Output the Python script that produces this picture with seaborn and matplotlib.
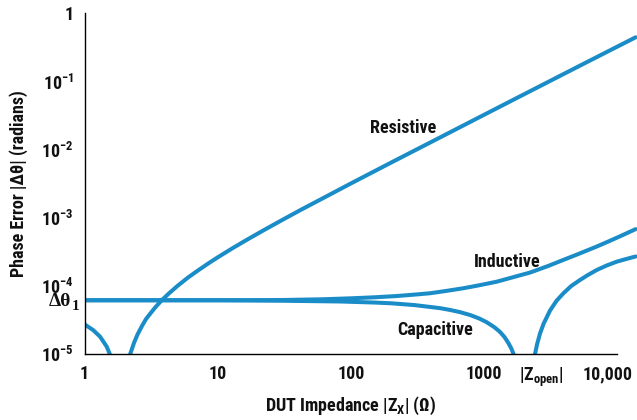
import pandas as pd
import matplotlib
matplotlib.use("Agg")
import matplotlib.pyplot as plt
import matplotlib.transforms as mtransforms
from matplotlib import font_manager
import seaborn as sns

# Phase error |Δθ| (radians) against DUT impedance |Zx| (Ω), one list pair per branch
resistive_low_z = [1.0, 1.16, 1.31, 1.47, 1.55, 1.62]
resistive_low_err = [2.75e-5, 2.27e-5, 1.81e-5, 1.29e-5, 1.0e-5, 7.0e-6]

resistive_high_z = [2.05, 2.2, 2.35, 2.5, 2.7, 2.9, 3.1, 3.4, 3.8, 4.3, 5, 6, 7, 8.5, 10,
                    13, 17, 22, 30, 42, 60, 100, 200, 420, 1000, 1760, 5560, 13740]
resistive_high_err = [4.8e-6, 1.0e-5, 1.46e-5, 1.95e-5, 2.6e-5, 3.3e-5, 3.9e-5, 4.88e-5,
                      6.2e-5, 7.8e-5, 1.01e-4, 1.34e-4, 1.66e-4, 2.15e-4, 2.64e-4,
                      3.62e-4, 4.92e-4, 6.55e-4, 9.16e-4, 1.31e-3, 1.89e-3, 3.2e-3,
                      6.46e-3, 1.36e-2, 3.25e-2, 5.73e-2, 0.181, 0.445]

inductive_z = [1, 10, 30, 60, 100, 150, 220, 300, 392, 520, 698, 900, 1244, 1650, 2212,
               3000, 3935, 5200, 7000, 9000, 11200, 13740]
inductive_err = [6.2e-5, 6.2e-5, 6.25e-5, 6.4e-5, 6.62e-5, 6.85e-5, 7.15e-5, 7.5e-5,
                 7.85e-5, 8.5e-5, 9.3e-5, 1.02e-4, 1.16e-4, 1.35e-4, 1.58e-4, 1.96e-4,
                 2.42e-4, 3.0e-4, 3.8e-4, 4.7e-4, 5.7e-4, 6.85e-4]

capacitive_low_z = [1, 10, 30, 83, 150, 200, 300, 392, 470, 555, 660, 784, 920, 1047,
                    1200, 1316, 1420, 1520, 1600, 1657, 1720, 1800]
capacitive_low_err = [6.2e-5, 6.2e-5, 6.1e-5, 5.95e-5, 5.74e-5, 5.6e-5, 5.27e-5, 4.95e-5,
                      4.74e-5, 4.47e-5, 4.15e-5, 3.77e-5, 3.35e-5, 2.95e-5, 2.48e-5,
                      2.13e-5, 1.8e-5, 1.47e-5, 1.22e-5, 1.03e-5, 8.5e-6, 6.0e-6]

capacitive_high_z = [2300, 2410, 2500, 2630, 2800, 3126, 3500, 3936, 4500, 5250, 6000,
                     7000, 8300, 9900, 11700, 13740]
capacitive_high_err = [4.7e-6, 1.0e-5, 1.41e-5, 2.02e-5, 2.82e-5, 4.38e-5, 6.1e-5, 7.83e-5,
                       1.0e-4, 1.23e-4, 1.45e-4, 1.72e-4, 2.0e-4, 2.28e-4, 2.5e-4, 2.72e-4]

delta_theta_1 = 6.2e-5
z_open = 1920

x_ticks = [1, 10, 100, 1000, z_open, 10000]
x_tick_labels = ["1", "10", "100", "1000", r"$|Z_{\mathrm{open}}|$", "10,000"]
y_ticks = [1e-5, 1e-4, 1e-3, 1e-2, 1e-1, 1]
y_tick_labels = [r"$10^{-5}$", r"$10^{-4}$", r"$10^{-3}$", r"$10^{-2}$", r"$10^{-1}$", "1"]

branches = {
    "resistive_low": (resistive_low_z, resistive_low_err),
    "resistive_high": (resistive_high_z, resistive_high_err),
    "inductive": (inductive_z, inductive_err),
    "capacitive_low": (capacitive_low_z, capacitive_low_err),
    "capacitive_high": (capacitive_high_z, capacitive_high_err),
}
df = pd.concat(
    [pd.DataFrame({"z": z, "err": e, "branch": name}) for name, (z, e) in branches.items()],
    ignore_index=True,
)

sns.set_theme(style="white")
installed = {f.name for f in font_manager.fontManager.ttflist}
sans = next((n for n in ("Roboto Condensed", "Liberation Sans Narrow", "Roboto")
             if n in installed), "DejaVu Sans")
plt.rcParams["font.family"] = [sans, "DejaVu Sans"]
plt.rcParams["font.weight"] = "bold"
plt.rcParams["axes.labelweight"] = "bold"
plt.rcParams["mathtext.fontset"] = "custom"
for key in ("rm", "it", "bf", "sf"):
    plt.rcParams[f"mathtext.{key}"] = f"{sans}:bold"

BLUE = "#1a8cc8"
INK = "#111111"
FS = 13
W, H = 637, 420
fig = plt.figure(figsize=(W / 100, H / 100), dpi=100)
ax = fig.add_axes([84.5 / W, 65.7 / H, (W - 84.5) / W, 341 / H])
ax.set_xscale("log")
ax.set_yscale("log")

sns.lineplot(data=df, x="z", y="err", units="branch", estimator=None, sort=False,
             color=BLUE, linewidth=2.9, ax=ax, legend=False)

ax.set_xlim(1, 10 ** 4.148)
ax.set_ylim(1e-5, 1)

ax.set_xticks(x_ticks)
ax.set_xticklabels(x_tick_labels)
ax.set_yticks(y_ticks)
ax.set_yticklabels(y_tick_labels)
ax.minorticks_off()
ax.tick_params(axis="both", which="major", direction="inout", length=8, width=1.0,
               color="black", labelsize=FS, labelcolor=INK)
ax.tick_params(axis="x", pad=4)
ax.tick_params(axis="y", pad=4)


def shift_label(tick_index, dx_px, ha=None):
    lab = ax.xaxis.get_major_ticks()[tick_index].label1
    if ha:
        lab.set_horizontalalignment(ha)
    lab.set_transform(lab.get_transform()
                      + mtransforms.ScaledTranslation(dx_px / 100, 0, fig.dpi_scale_trans))


# |Zopen| starts at its tick; 10,000 is pulled in from the right edge
shift_label(4, -3, ha="left")
shift_label(5, -10)

for side in ("top", "right"):
    ax.spines[side].set_visible(False)
for side in ("left", "bottom"):
    ax.spines[side].set_color("black")
    ax.spines[side].set_linewidth(1.0)
ax.spines["bottom"].set_bounds(1, 10000)

ax.set_xlabel(r"DUT Impedance $|Z_{\mathrm{X}}|$ (Ω)", fontsize=FS, color=INK)
ax.set_ylabel("Phase Error |Δθ| (radians)", fontsize=FS, color=INK)
ax.xaxis.set_label_coords(0.482, -0.12)
ax.yaxis.set_label_coords(-0.103, 0.5)

# curve names
ax.text(246, 0.0205, "Resistive", ha="center", va="center", fontsize=FS, color=INK)
ax.text(1486, 2.25e-4, "Inductive", ha="center", va="center", fontsize=FS, color=INK)
ax.text(428, 2.27e-5, "Capacitive", ha="center", va="center", fontsize=FS, color=INK)

# level of the flat error floor, set in a bold serif with its subscript
serif = ["Liberation Serif", "DejaVu Serif"]
floor = mtransforms.blended_transform_factory(ax.transAxes, ax.transData)
down = lambda px: floor + mtransforms.ScaledTranslation(0, -px / 100, fig.dpi_scale_trans)
ax.text(-0.0235, delta_theta_1, "Δθ", transform=down(1.5), ha="right", va="center",
        fontsize=14, family=serif, fontweight="bold", color=INK)
ax.text(-0.0235, delta_theta_1, "1", transform=down(6), ha="left", va="center",
        fontsize=11, family=serif, fontweight="bold", color=INK)

fig.savefig("out.png", dpi=100)
